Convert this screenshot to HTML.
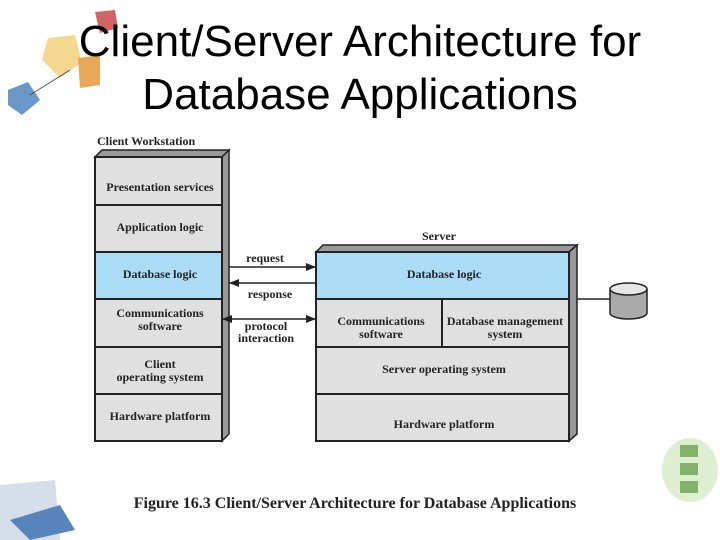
<!DOCTYPE html>
<html><head><style>
html,body{margin:0;padding:0;background:#fff;}
svg{display:block;}
.t{font-family:"Liberation Serif",serif;font-weight:bold;font-size:12px;fill:#222;text-anchor:middle;}
</style></head><body>
<svg width="720" height="540" viewBox="0 0 720 540" xmlns="http://www.w3.org/2000/svg">
<defs><marker id="a" markerWidth="10" markerHeight="8" refX="10" refY="4" orient="auto" markerUnits="userSpaceOnUse"><path d="M0,0 L10,4 L0,8z" fill="#222"/></marker></defs>
<g opacity="0.85">
<polygon points="48,38 75,35 82,62 60,78 42,60" fill="#f3d27a"/>
<polygon points="78,58 100,55 100,85 80,88" fill="#e59a3a"/>
<polygon points="95,12 115,10 118,28 100,33" fill="#c94a4a"/>
<polygon points="8,90 28,82 40,100 22,115 8,105" fill="#4f86bf"/>
<line x1="30" y1="95" x2="70" y2="70" stroke="#333"/>
<polygon points="0,485 55,480 60,540 0,540" fill="#cfd9e6"/>
<polygon points="10,520 60,505 75,530 30,540" fill="#3a6fb0"/>
<ellipse cx="690" cy="470" rx="28" ry="32" fill="#d9ecc9"/>
<rect x="680" y="445" width="18" height="12" fill="#6aa84f"/><rect x="680" y="463" width="18" height="12" fill="#6aa84f"/><rect x="680" y="481" width="18" height="12" fill="#6aa84f"/>
</g>
<text x="360" y="56" font-family="Liberation Sans,sans-serif" font-size="44" text-anchor="middle" fill="#000">Client/Server Architecture for</text>
<text x="360" y="109" font-family="Liberation Sans,sans-serif" font-size="44" text-anchor="middle" fill="#000">Database Applications</text>
<text class="t" x="97" y="145" style="text-anchor:start">Client Workstation</text>
<polygon points="95,157 102,150 229,150 222,157" fill="#999" stroke="#222" stroke-width="1.5"/>
<polygon points="222,157 229,150 229,434 222,441" fill="#999" stroke="#222" stroke-width="1.5"/>
<g stroke="#222" stroke-width="2">
<rect x="95" y="157" width="127" height="48" fill="#e0e0e0"/>
<rect x="95" y="205" width="127" height="47" fill="#e0e0e0"/>
<rect x="95" y="252" width="127" height="47" fill="#aadcf5"/>
<rect x="95" y="299" width="127" height="48" fill="#e0e0e0"/>
<rect x="95" y="347" width="127" height="47" fill="#e0e0e0"/>
<rect x="95" y="394" width="127" height="47" fill="#e0e0e0"/>
</g>
<text class="t" x="160" y="191">Presentation services</text>
<text class="t" x="160" y="231">Application logic</text>
<text class="t" x="160" y="278">Database logic</text>
<text class="t" x="160" y="317">Communications</text><text class="t" x="160" y="330">software</text>
<text class="t" x="160" y="368">Client</text><text class="t" x="160" y="381">operating system</text>
<text class="t" x="160" y="420">Hardware platform</text>
<text class="t" x="439" y="240">Server</text>
<polygon points="316,252 323,245 577,245 569,252" fill="#999" stroke="#222" stroke-width="1.5"/>
<polygon points="569,252 577,245 577,434 569,441" fill="#999" stroke="#222" stroke-width="1.5"/>
<g stroke="#222" stroke-width="2">
<rect x="316" y="252" width="253" height="47" fill="#aadcf5"/>
<rect x="316" y="299" width="126" height="48" fill="#e0e0e0"/>
<rect x="442" y="299" width="127" height="48" fill="#e0e0e0"/>
<rect x="316" y="347" width="253" height="47" fill="#e0e0e0"/>
<rect x="316" y="394" width="253" height="47" fill="#e0e0e0"/>
</g>
<text class="t" x="444" y="278">Database logic</text>
<text class="t" x="381" y="325">Communications</text><text class="t" x="381" y="338">software</text>
<text class="t" x="505" y="325">Database management</text><text class="t" x="505" y="338">system</text>
<text class="t" x="444" y="373">Server operating system</text>
<text class="t" x="444" y="428">Hardware platform</text>
<g stroke="#222" stroke-width="1.5">
<line x1="229" y1="267" x2="316" y2="267" marker-end="url(#a)"/>
<line x1="316" y1="283" x2="229" y2="283" marker-end="url(#a)"/>
<line x1="270" y1="319" x2="316" y2="319" marker-end="url(#a)"/>
<line x1="270" y1="319" x2="222" y2="319" marker-end="url(#a)"/>
<line x1="577" y1="299" x2="610" y2="299"/>
</g>
<text class="t" x="265" y="262">request</text>
<text class="t" x="270" y="298">response</text>
<text class="t" x="266" y="330">protocol</text><text class="t" x="266" y="342">interaction</text>
<path d="M610,289 L610,313 A18.5,6 0 0 0 647,313 L647,289" fill="#aaa" stroke="#222" stroke-width="1.5"/>
<ellipse cx="628.5" cy="289" rx="18.5" ry="6" fill="#e6e6e6" stroke="#222" stroke-width="1.5"/>
<text x="355" y="508" font-family="Liberation Serif,serif" font-weight="bold" font-size="16" text-anchor="middle" fill="#222">Figure 16.3  Client/Server Architecture for Database Applications</text>
</svg>
</body></html>
